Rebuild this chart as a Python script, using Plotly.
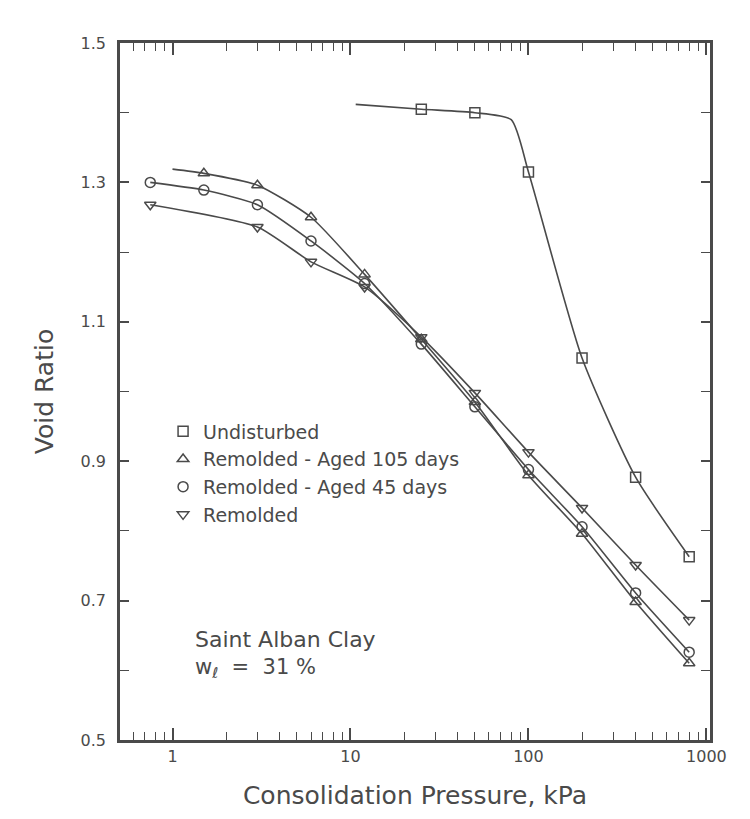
import numpy as np
import plotly.graph_objects as go

# ---- data ----
# Undisturbed (squares)
p_und = [25, 50, 100, 200, 400, 800]
e_und = [1.405, 1.400, 1.315, 1.048, 0.877, 0.763]
# drawn curve for undisturbed (includes the curve start and the knee)
p_und_curve = [10.7, 25, 50, 80, 100, 200, 400, 800]
e_und_curve = [1.412, 1.405, 1.400, 1.390, 1.315, 1.048, 0.877, 0.763]

# Remolded - Aged 105 days (up triangles)
p_r105 = [1.5, 3, 6, 12, 25, 50, 100, 200, 400, 800]
e_r105 = [1.313, 1.296, 1.250, 1.168, 1.075, 0.985, 0.880, 0.796, 0.698, 0.610]
p_r105_curve = [1.0] + p_r105
e_r105_curve = [1.319] + e_r105

# Remolded - Aged 45 days (circles)
p_r45 = [0.75, 1.5, 3, 6, 12, 25, 50, 100, 200, 400, 800]
e_r45 = [1.300, 1.289, 1.268, 1.216, 1.155, 1.068, 0.978, 0.888, 0.806, 0.711, 0.626]

# Remolded (down triangles)
p_rem = [0.75, 3, 6, 12, 25, 50, 100, 200, 400, 800]
e_rem = [1.268, 1.236, 1.186, 1.150, 1.078, 0.998, 0.913, 0.833, 0.751, 0.672]

series_names = ["Undisturbed", "Remolded - Aged 105 days",
                "Remolded - Aged 45 days", "Remolded"]
x_tick_vals = [1, 10, 100, 1000]
x_tick_text = ["1", "10", "100", "1000"]
y_tick_vals = [0.5, 0.7, 0.9, 1.1, 1.3, 1.5]
y_tick_text = ["0.5", "0.7", "0.9", "1.1", "1.3", "1.5"]

INK = "#4a4a4a"
FONT = "DejaVu Sans, Liberation Sans, sans-serif"

fig = go.Figure()

curves = [
    (p_und_curve, e_und_curve),
    (p_r105_curve, e_r105_curve),
    (p_r45, e_r45),
    (p_rem, e_rem),
]
for px, ey in curves:
    fig.add_trace(go.Scatter(x=px, y=ey, mode="lines",
                             line=dict(color=INK, width=1.6, shape="spline", smoothing=0.6),
                             showlegend=False, hoverinfo="skip"))

marks = [
    (p_und, e_und, "square-open"),
    (p_r105, e_r105, "triangle-up-open"),
    (p_r45, e_r45, "circle-open"),
    (p_rem, e_rem, "triangle-down-open"),
]
for (px, ey, sym), name in zip(marks, series_names):
    fig.add_trace(go.Scatter(x=px, y=ey, mode="markers", name=name,
                             marker=dict(symbol=sym, size=10, color=INK,
                                         line=dict(width=1.5, color=INK)),
                             cliponaxis=False))

minor_x = [m * 10 ** d for d in range(-1, 3) for m in range(2, 10)]
minor_x = [v for v in minor_x if 0.5 <= v <= 1000]

fig.update_xaxes(type="log", range=[-0.295, 3.02],
                 tickmode="array", tickvals=x_tick_vals, ticktext=x_tick_text,
                 ticks="inside", ticklen=12, tickwidth=1.5, tickcolor=INK,
                 minor=dict(tickmode="array", tickvals=minor_x, ticks="inside",
                            ticklen=8, tickwidth=1.2, tickcolor=INK, showgrid=False),
                 showline=True, linewidth=2.5, linecolor=INK, mirror="ticks",
                 showgrid=False, zeroline=False,
                 tickfont=dict(family=FONT, size=16, color=INK),
                 title=dict(text="Consolidation Pressure, kPa", standoff=22,
                            font=dict(family=FONT, size=25, color=INK)))
fig.update_yaxes(range=[0.5, 1.5],
                 tickmode="array", tickvals=y_tick_vals, ticktext=y_tick_text,
                 ticks="inside", ticklen=9, tickwidth=1.5, tickcolor=INK,
                 minor=dict(dtick=0.1, ticks="inside", ticklen=9, tickwidth=1.2,
                            tickcolor=INK, showgrid=False),
                 showline=True, linewidth=2.5, linecolor=INK, mirror="ticks",
                 showgrid=False, zeroline=False, ticklabelstandoff=8,
                 tickfont=dict(family=FONT, size=16, color=INK),
                 title=dict(text="Void Ratio", standoff=20,
                            font=dict(family=FONT, size=25, color=INK)))

fig.add_annotation(xref="paper", yref="paper", x=0.124, y=0.1435,
                   xanchor="left", yanchor="middle", showarrow=False,
                   text="Saint Alban Clay",
                   font=dict(family=FONT, size=22, color=INK))
fig.add_annotation(xref="paper", yref="paper", x=0.124, y=0.103,
                   xanchor="left", yanchor="middle", showarrow=False,
                   text="w<sub>ℓ</sub>  =  31 %",
                   font=dict(family=FONT, size=21, color=INK))

fig.update_layout(
    width=750, height=819,
    margin=dict(l=112, r=48, t=35, b=87),
    paper_bgcolor="white", plot_bgcolor="white",
    showlegend=True,
    legend=dict(x=0.073, y=0.47, xanchor="left", yanchor="top",
                bgcolor="rgba(0,0,0,0)", itemwidth=30,
                font=dict(family=FONT, size=19, color=INK),
                tracegroupgap=0),
)

fig.write_html("out.html")
